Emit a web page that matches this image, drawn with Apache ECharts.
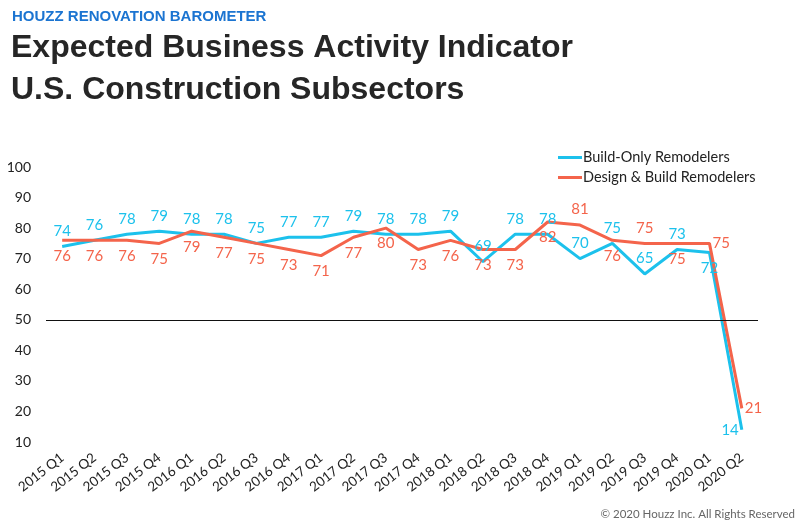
<!DOCTYPE html>
<html>
<head>
<meta charset="utf-8">
<script src="https://cdn.jsdelivr.net/npm/echarts@6/dist/echarts.min.js"></script>
<style>
  html, body { margin: 0; padding: 0; background: #fff; }
  #chart { width: 798px; height: 521px; }
</style>
</head>
<body>
<div id="chart"></div>
<script>
const categories = [
  '2015 Q1', '2015 Q2', '2015 Q3', '2015 Q4',
  '2016 Q1', '2016 Q2', '2016 Q3', '2016 Q4',
  '2017 Q1', '2017 Q2', '2017 Q3', '2017 Q4',
  '2018 Q1', '2018 Q2', '2018 Q3', '2018 Q4',
  '2019 Q1', '2019 Q2', '2019 Q3', '2019 Q4',
  '2020 Q1', '2020 Q2'
];
const buildOnly = [74, 76, 78, 79, 78, 78, 75, 77, 77, 79, 78, 78, 79, 69, 78, 78, 70, 75, 65, 73, 72, 14];
const designBuild = [76, 76, 76, 75, 79, 77, 75, 73, 71, 77, 80, 73, 76, 73, 73, 82, 81, 76, 75, 75, 75, 21];
const yTicks = [10, 20, 30, 40, 50, 60, 70, 80, 90, 100];
const threshold = 50;

// where each value label sits (default: blue above, red below)
const buildOnlyLabelPos = { 20: 'bottom', 21: 'left' };
const designBuildLabelPos = { 16: 'top', 18: 'top', 20: 'right', 21: 'right' };

const BLUE = '#1cc1ec';
const RED = '#f4644b';
const FONT = 'Lato, "Open Sans", sans-serif';

const withLabels = (values, positions, fallback) => values.map((v, i) => {
  const pos = positions[i] || fallback;
  const side = pos === 'left' || pos === 'right';
  return { value: v, label: { position: pos, distance: side ? 3 : 8 } };
});

const chart = echarts.init(document.getElementById('chart'));

chart.setOption({
  animation: false,
  textStyle: { fontFamily: FONT },
  graphic: [
    {
      type: 'text', left: 12, top: 9,
      style: { text: 'HOUZZ RENOVATION BAROMETER', fill: '#1b74d1', font: 'bold 15px "Liberation Sans", Arial, sans-serif' }
    },
    {
      type: 'text', left: 11, top: 32,
      style: { text: 'Expected Business Activity Indicator', fill: '#262626', font: 'bold 32px "Liberation Sans", Arial, sans-serif' }
    },
    {
      type: 'text', left: 11, top: 74,
      style: { text: 'U.S. Construction Subsectors', fill: '#262626', font: 'bold 32px "Liberation Sans", Arial, sans-serif' }
    },
    {
      type: 'text', right: 3, bottom: 1,
      style: { text: '\u00a9 2020 Houzz Inc. All Rights Reserved', fill: '#666', font: '11.5px ' + FONT }
    }
  ],
  legend: {
    orient: 'vertical',
    left: 553,
    top: 145,
    itemWidth: 24,
    itemHeight: 3,
    itemGap: 5,
    icon: 'rect',
    textStyle: { fontSize: 14.5, color: '#222', fontFamily: FONT, padding: [0, 0, 0, -4] },
    data: ['Build-Only Remodelers', 'Design & Build Remodelers']
  },
  grid: { left: 46, right: 40, top: 167, bottom: 79 },
  xAxis: {
    type: 'category',
    data: categories,
    axisLine: { show: false },
    axisTick: { show: false },
    axisLabel: { rotate: 38, color: '#222', fontSize: 13.5, margin: 14, interval: 0, fontFamily: FONT }
  },
  yAxis: {
    type: 'value',
    min: yTicks[0],
    max: yTicks[yTicks.length - 1],
    interval: 10,
    axisLine: { show: false },
    axisTick: { show: false },
    splitLine: { show: false },
    axisLabel: { color: '#222', fontSize: 14, margin: 15, fontFamily: FONT }
  },
  series: [
    {
      name: 'Build-Only Remodelers',
      type: 'line',
      data: withLabels(buildOnly, buildOnlyLabelPos, 'top'),
      symbol: 'circle',
      symbolSize: 0,
      showSymbol: true,
      lineStyle: { width: 3, color: BLUE },
      itemStyle: { color: BLUE },
      label: { show: true, color: BLUE, fontSize: 15, fontFamily: FONT },
      markLine: {
        silent: true,
        symbol: 'none',
        label: { show: false },
        lineStyle: { color: '#111', width: 1, type: 'solid' },
        data: [{ yAxis: threshold }]
      }
    },
    {
      name: 'Design & Build Remodelers',
      type: 'line',
      data: withLabels(designBuild, designBuildLabelPos, 'bottom'),
      symbol: 'circle',
      symbolSize: 0,
      showSymbol: true,
      lineStyle: { width: 3, color: RED },
      itemStyle: { color: RED },
      label: { show: true, color: RED, fontSize: 15, fontFamily: FONT }
    }
  ]
});
</script>
</body>
</html>
